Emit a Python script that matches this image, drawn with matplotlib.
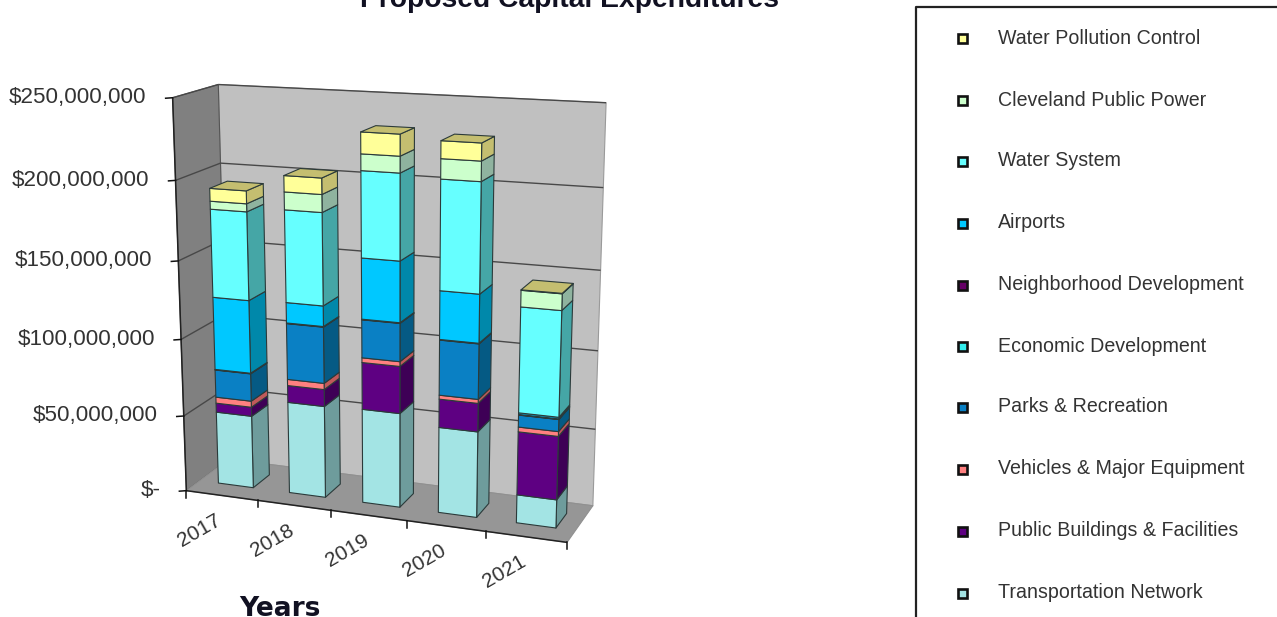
import numpy as np
import matplotlib
matplotlib.use("Agg")
import matplotlib.pyplot as plt
from matplotlib.patches import Polygon, Rectangle

plt.rcParams['font.family'] = ['Liberation Sans', 'DejaVu Sans']

# ----- chart data (millions of dollars) -----
years = ['2017', '2018', '2019', '2020', '2021']
transportation = [48, 60, 61, 55, 18]
public_buildings = [6, 11, 30, 18, 40]
vehicles = [4, 4, 3, 2.5, 3]
parks = [18, 36, 24, 34.5, 7.5]
economic = [0.2, 0.2, 0.2, 0.2, 0.2]
neighborhood = [0.2, 0.2, 0.2, 0.2, 0.2]
airports = [47, 13, 38, 30, 1]
water_system = [56, 58, 53, 67, 65]
cleveland = [5, 11, 10, 12, 10]
water_pollution = [8, 10, 13, 10.5, 0.3]

y_ticks = [0, 50, 100, 150, 200, 250]
y_labels = ['$-', '$50,000,000', '$100,000,000', '$150,000,000',
            '$200,000,000', '$250,000,000']

series = [
    ('Transportation Network', transportation, '#A3E4E4', '#6E9C9C'),
    ('Public Buildings & Facilities', public_buildings, '#5E0082', '#3E0056'),
    ('Vehicles & Major Equipment', vehicles, '#FF8080', '#C05A5A'),
    ('Parks & Recreation', parks, '#0A80C4', '#055A84'),
    ('Economic Development', economic, '#33EEEE', '#22A0A0'),
    ('Neighborhood Development', neighborhood, '#660066', '#440044'),
    ('Airports', airports, '#00C8FF', '#0088AA'),
    ('Water System', water_system, '#66FFFF', '#45A6A6'),
    ('Cleveland Public Power', cleveland, '#CCFFCC', '#8FB39F'),
    ('Water Pollution Control', water_pollution, '#FFFF99', '#C4BE70'),
]

# ----- perspective camera, solved from the corners of the plot box -----
# world axes: u = category position, v = value, d = depth (0 front, 1 back)
corners_world = [(0, 0, 0), (5, 0, 0), (0, 250, 0), (0, 0, 1),
                 (0, 250, 1), (5, 250, 1), (5, 0, 1)]
corners_screen = [(187, 488), (567, 545), (172, 98), (228, 462),
                  (219, 84), (606, 103), (593, 503)]


def solve_camera(world, screen):
    rows, rhs = [], []
    for (u, v, d), (x, y) in zip(world, screen):
        v = v / 250
        rows.append([u, v, d, 1, 0, 0, 0, 0, -x * u, -x * v, -x * d])
        rows.append([0, 0, 0, 0, u, v, d, 1, -y * u, -y * v, -y * d])
        rhs += [x, y]
    sol = np.linalg.lstsq(np.array(rows, float), np.array(rhs, float), rcond=None)[0]
    return np.append(sol, 1).reshape(3, 4)


CAMERA = solve_camera(corners_world, corners_screen)


def project(u, v, d):
    p = CAMERA @ np.array([u, v / 250, d, 1.0])
    return p[0] / p[2], p[1] / p[2]


W, H = 1277, 617
fig = plt.figure(figsize=(W / 100, H / 100), dpi=100, facecolor='white')
ax = fig.add_axes([0, 0, 1, 1])
ax.set_xlim(0, W)
ax.set_ylim(H, 0)
ax.axis('off')

EDGE = '#2b3a3a'
GRID = '#484848'


def face(points, color, edge=EDGE, lw=0.8, z=2):
    ax.add_patch(Polygon([project(*p) for p in points], closed=True, facecolor=color,
                         edgecolor=edge, linewidth=lw, zorder=z, joinstyle='round'))


def line(a, b, color=GRID, lw=1.0, z=1.5):
    pa, pb = project(*a), project(*b)
    ax.plot([pa[0], pb[0]], [pa[1], pb[1]], color=color, lw=lw, zorder=z,
            solid_capstyle='butt')


n = len(years)
vmax = y_ticks[-1]

# walls and floor
face([(0, 0, 1), (n, 0, 1), (n, vmax, 1), (0, vmax, 1)], '#C0C0C0', edge='#9a9a9a', z=1)
face([(0, 0, 0), (0, 0, 1), (0, vmax, 1), (0, vmax, 0)], '#808080', edge='#555555', z=1.1)
face([(0, 0, 0), (n, 0, 0), (n, 0, 1), (0, 0, 1)], '#969696', edge='#909090', z=1.2)

# gridlines across both walls
for val in y_ticks[1:]:
    line((0, val, 0), (0, val, 1))
    line((0, val, 1), (n, val, 1))
line((0, 0, 0), (0, vmax, 0), color='#222222', lw=1.1, z=1.6)
line((0, 0, 0), (n, 0, 0), color='#222222', lw=1.1, z=1.6)

# value axis ticks and labels, running down the slanted front edge
for val, lab in zip(y_ticks, y_labels):
    x, y = project(0, val, 0)
    ax.plot([x - 7, x], [y + 0.5, y], color='#111111', lw=1.1, zorder=3)
    ax.text(x - 26, y, lab, ha='right', va='center', fontsize=16.1,
            color='#333333', zorder=5)

# category ticks
for i in range(n + 1):
    x, y = project(i, 0, 0)
    ax.plot([x, x], [y, y + 7], color='#111111', lw=1.1, zorder=3)

# category labels, rotated and anchored below the front floor edge
for i, lab in enumerate(years):
    x, y = project(i + 0.5, 0, 0)
    ax.text(x - 22, y + 35, lab, rotation=30, ha='center', va='center',
            fontsize=15, color='#333333', zorder=5, rotation_mode='anchor')

# stacked bars, drawn from the bottom segment upwards
U0, U1 = 0.265, 0.76
D0, D1 = 0.31, 0.71
for i in range(n):
    u0, u1 = i + U0, i + U1
    base = 0.0
    for _, vals, col, side in series:
        top = base + vals[i]
        face([(u1, base, D0), (u1, base, D1), (u1, top, D1), (u1, top, D0)], side, z=2 + i * 0.1)
        face([(u0, base, D0), (u1, base, D0), (u1, top, D0), (u0, top, D0)], col, z=2.01 + i * 0.1)
        base = top
    top_col = series[-1][3]
    face([(u0, base, D0), (u1, base, D0), (u1, base, D1), (u0, base, D1)], top_col, z=2.02 + i * 0.1)

# titles
ax.text(569, 7, 'Proposed Capital Expenditures', ha='center', va='baseline',
        fontsize=20.3, fontweight='bold', color='#111122', zorder=6)
ax.text(280, 616, 'Years', ha='center', va='baseline', fontsize=19, fontweight='bold',
        family='DejaVu Sans', color='#111122', zorder=6)

# legend box, open towards the right and bottom of the canvas
ax.plot([916, 916, W + 5], [H + 5, 7, 7], color='#222222', lw=1.6, zorder=6)
legend_y = [37, 99, 160, 222, 284, 345, 406, 468, 530, 592]
for (name, _, col, _), y in zip(reversed(series), legend_y):
    ax.add_patch(Rectangle((958, y - 3), 9, 8.5, facecolor=col, edgecolor='#111111',
                           linewidth=1.9, zorder=6))
    ax.text(998, y + 1, name, ha='left', va='center', fontsize=14.1, color='#333333', zorder=6)

fig.savefig('out.png', dpi=100)
